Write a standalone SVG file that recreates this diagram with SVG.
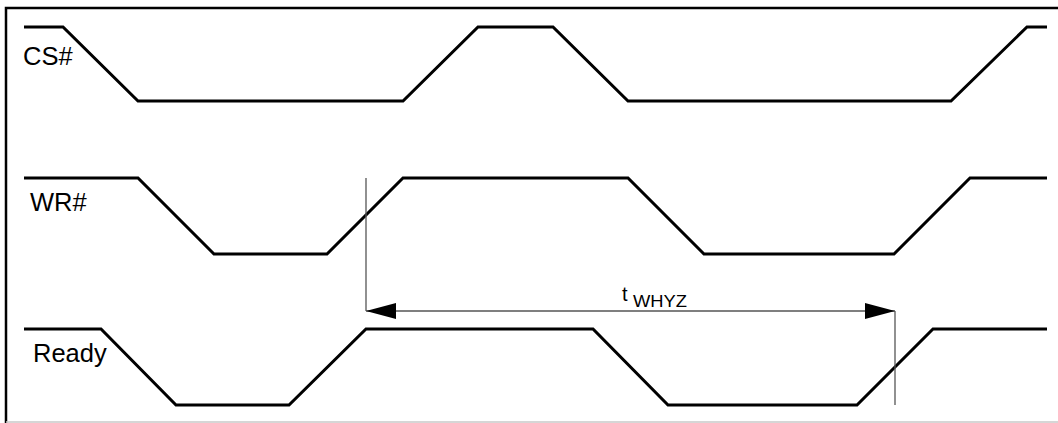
<svg xmlns="http://www.w3.org/2000/svg" width="1058" height="423" viewBox="0 0 1058 423">
<style>
.sig{fill:none;stroke:#000;stroke-width:3;stroke-linejoin:miter}
.dim{fill:none;stroke:#555;stroke-width:1.3}
.lbl{font-family:"Liberation Sans",Arial,sans-serif;font-size:25.5px;fill:#000}
.sub{font-family:"Liberation Sans",Arial,sans-serif;fill:#000}
</style>
<defs>
<marker id="ah" viewBox="0 0 30 16" refX="30" refY="8" markerWidth="30" markerHeight="16" markerUnits="userSpaceOnUse" orient="auto-start-reverse">
<path d="M0,0 L30,8 L0,16 Z" fill="#000"/>
</marker>
</defs>
<rect width="1058" height="423" fill="#fff"/>
<g id="frame">
<polyline points="6,423 6,8 1058,8" fill="none" stroke="#000" stroke-width="2.5"/>
<line x1="6" y1="422" x2="1058" y2="422" stroke="#c8c8c8" stroke-width="1.5"/>
</g>
<g id="cs">
<polyline class="sig" points="24,27 63,27 138,101 403,101 478,27 553,27 628,101 951,101 1027,27 1047,27"/>
<text class="lbl" x="23" y="65">CS#</text>
</g>
<g id="wr">
<polyline class="sig" points="24,178 138,178 214,254 327,254 403,178 628,178 704,254 894,254 970,178 1047,178"/>
<text class="lbl" x="30" y="211">WR#</text>
</g>
<g id="ready">
<polyline class="sig" points="24,329 101,329 176,405 289,405 366,329 593,329 668,405 857,405 933,329 1047,329"/>
<text class="lbl" x="33" y="362">Ready</text>
</g>
<g id="connectors">
<line class="dim" x1="366" y1="178" x2="366" y2="311"/>
<line class="dim" x1="895" y1="311" x2="895" y2="405"/>
<line class="dim" x1="366" y1="311" x2="895" y2="311" marker-start="url(#ah)" marker-end="url(#ah)"/>
</g>
<g id="twhyz">
<text class="sub" x="622" y="301" font-size="20">t</text>
<text class="sub" x="633" y="307" font-size="16" textLength="54" lengthAdjust="spacingAndGlyphs">WHYZ</text>
</g>
</svg>
